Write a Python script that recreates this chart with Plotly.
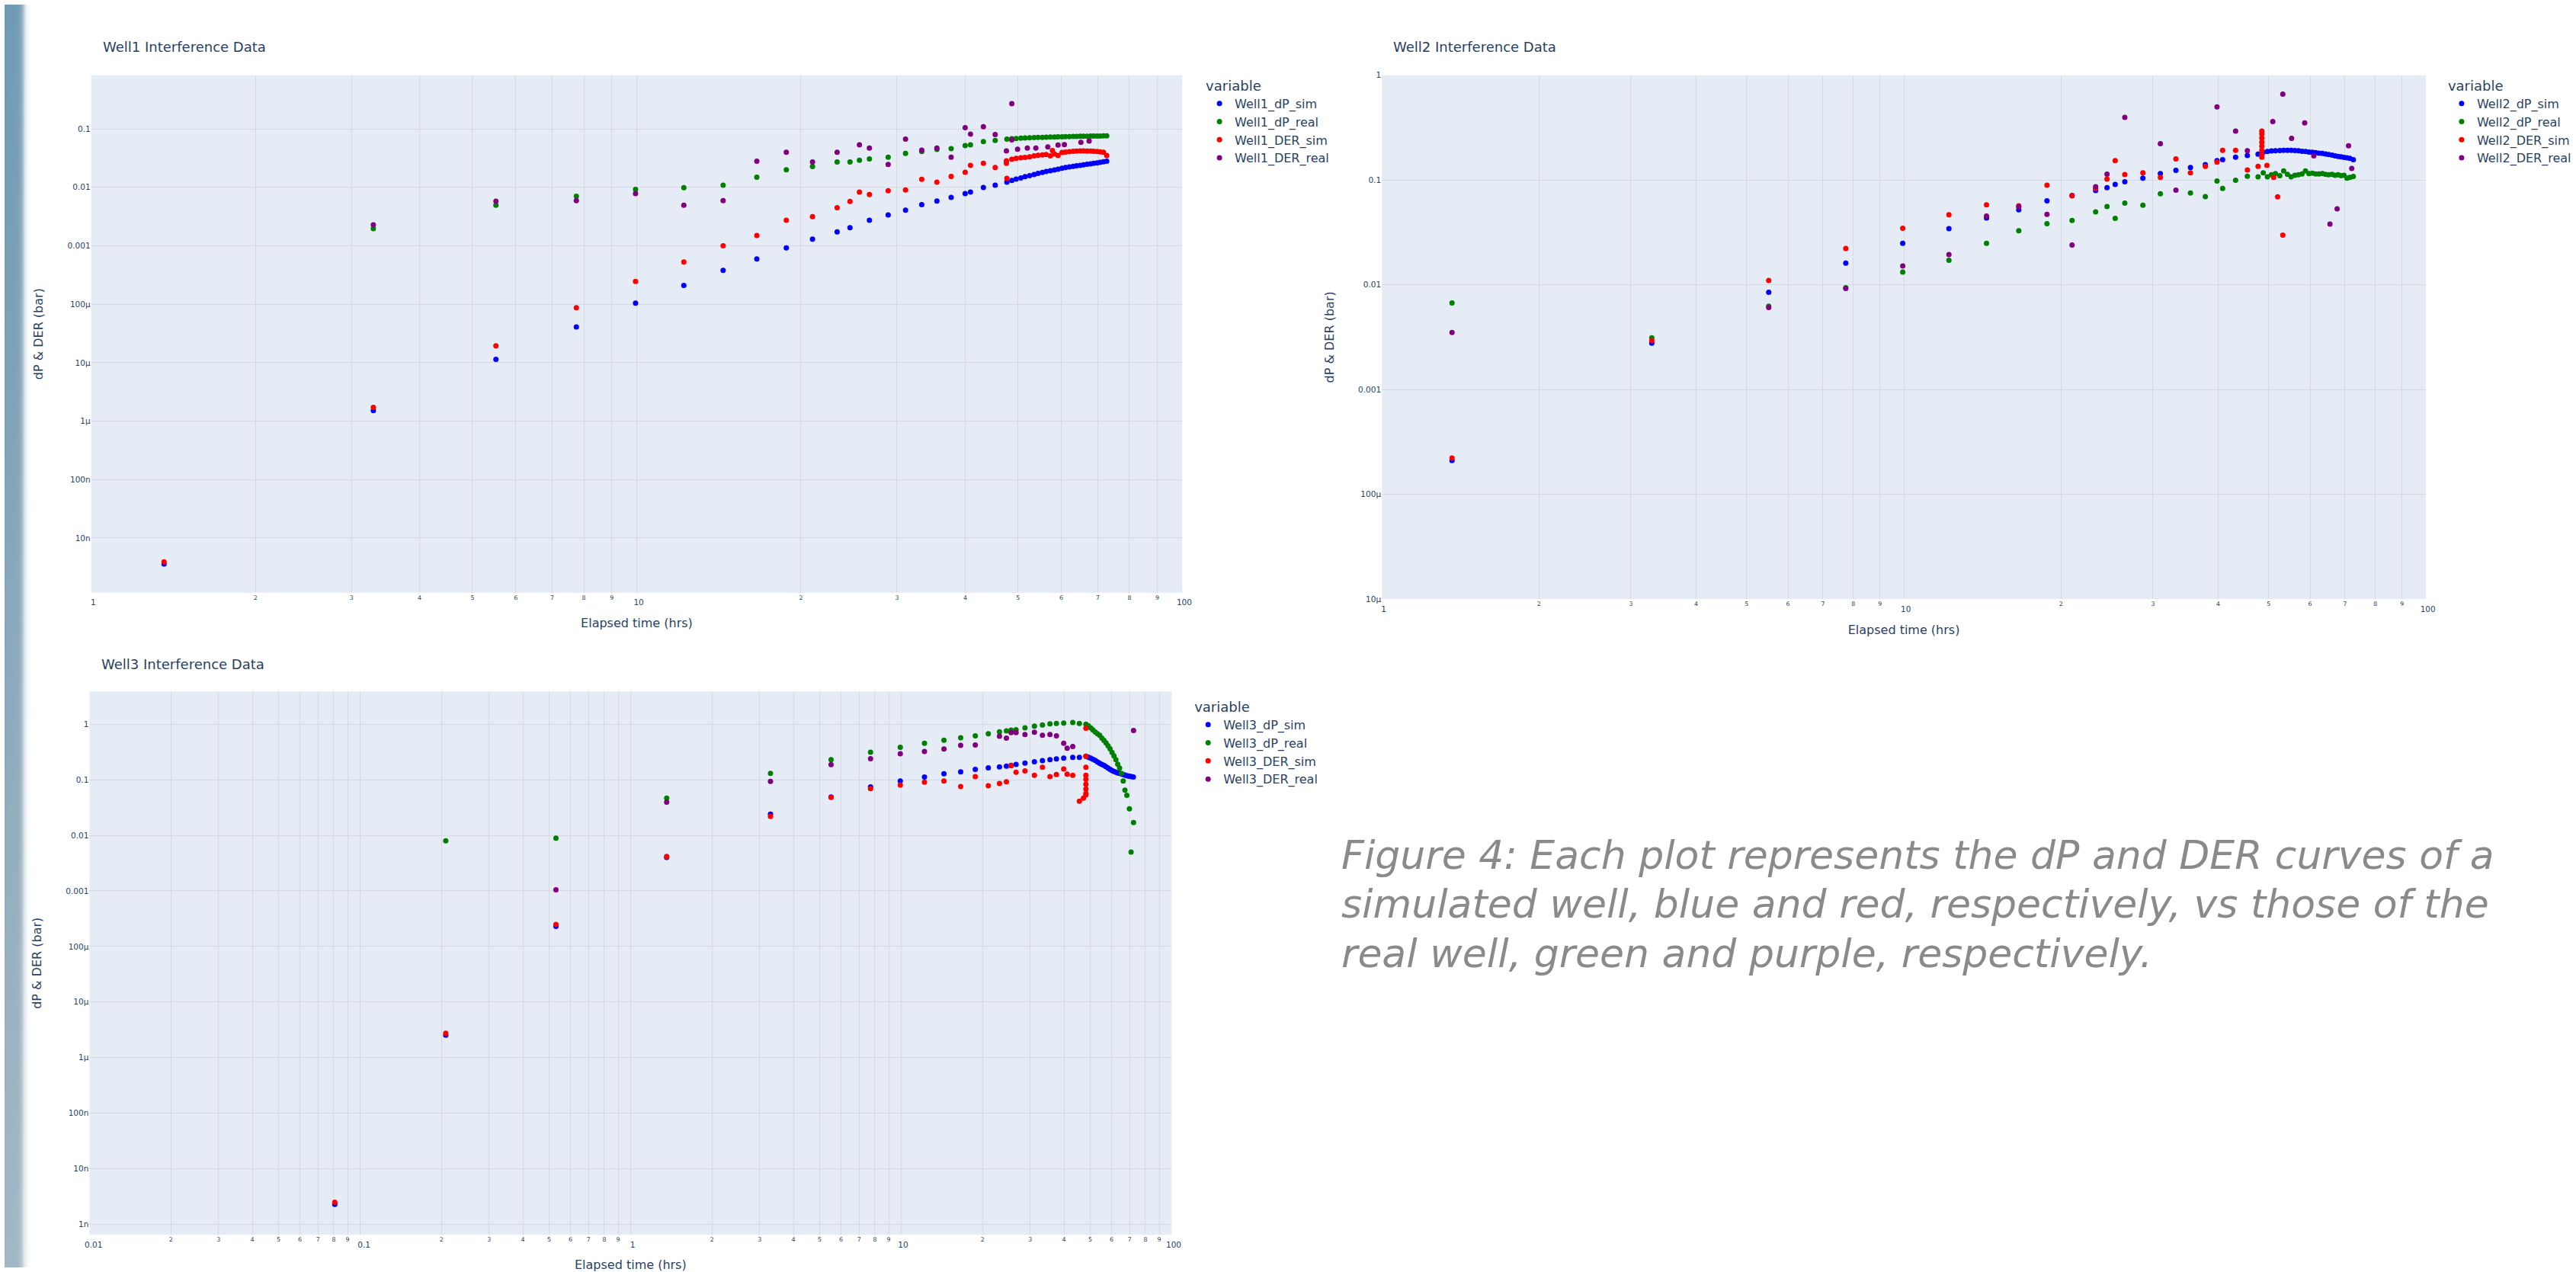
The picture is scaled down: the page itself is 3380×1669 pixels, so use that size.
import plotly.graph_objects as go

W, H = 3380, 1669

# ---------------- Well1 ----------------
w1_late_t = [47.7, 48.7, 49.6, 50.6, 51.5, 52.5, 53.5, 54.4, 55.4, 56.3, 57.3, 58.3, 59.2, 60.2,
             61.1, 62.1, 63.1, 64.0, 65.0, 65.9, 66.9, 67.9, 68.8, 69.8, 70.7, 71.7, 72.7]

w1_dp_sim_t = [1.36, 3.29, 5.52, 7.75, 9.95, 12.2, 14.4, 16.6, 18.8, 21.0, 23.3, 24.6, 26.7, 28.9,
               31.1, 33.3, 35.5, 37.7, 40.0, 40.9, 43.2, 45.4] + w1_late_t
w1_dp_sim = [3.6e-9, 1.51e-6, 1.14e-5, 4.07e-5, 1.04e-4, 2.09e-4, 3.8e-4, 5.97e-4, 9.2e-4, 1.30e-3,
             1.73e-3, 2.04e-3, 2.73e-3, 3.37e-3, 4.08e-3, 5.04e-3, 5.82e-3, 6.74e-3, 7.80e-3,
             8.32e-3, 9.93e-3, 1.09e-2,
             0.0123, 0.0131, 0.0138, 0.0145, 0.0152, 0.0158, 0.0166, 0.0173, 0.0180, 0.0187, 0.0193,
             0.0199, 0.0205, 0.0212, 0.0218, 0.0223, 0.0228, 0.0233, 0.0238, 0.0243, 0.0248, 0.0253,
             0.0257, 0.0262, 0.0267, 0.0273, 0.0279]

w1_dp_real_t = [3.29, 5.52, 7.75, 9.95, 12.2, 14.4, 16.6, 18.8, 21.0, 23.3, 24.6, 25.6, 26.7, 28.9,
                31.1, 33.3, 35.5, 37.7, 40.0, 40.9, 43.2, 45.4] + w1_late_t
w1_dp_real = [1.97e-3, 4.95e-3, 7.06e-3, 9.2e-3, 9.9e-3, 1.09e-2, 1.49e-2, 2.0e-2, 2.27e-2, 2.71e-2,
              2.72e-2, 2.9e-2, 3.07e-2, 3.28e-2, 3.8e-2, 4.12e-2, 4.47e-2, 4.61e-2, 5.17e-2, 5.33e-2,
              6.07e-2, 6.37e-2,
              0.0668, 0.0677, 0.0685, 0.0692, 0.0698, 0.0704, 0.0709, 0.0714, 0.0718, 0.0722, 0.0725,
              0.0728, 0.0731, 0.0734, 0.0737, 0.0739, 0.0741, 0.0744, 0.0746, 0.0748, 0.0750, 0.0752,
              0.0754, 0.0756, 0.0757, 0.0759, 0.0760]

w1_der_sim_t = [1.36, 3.29, 5.52, 7.75, 9.95, 12.2, 14.4, 16.6, 18.8, 21.0, 23.3, 24.6, 25.6, 26.7,
                28.9, 31.1, 33.3, 35.5, 37.7, 40.0, 40.9, 43.2, 45.4, 47.6, 47.6, 47.7,
                48.7, 49.6, 50.6, 51.5, 52.5, 53.5, 54.4, 55.4, 56.3, 57.3, 57.8, 58.3, 59.2, 60.2,
                61.1, 62.1, 63.1, 64.0, 65.0, 65.9, 66.9, 67.9, 68.8, 69.8, 70.7, 71.7, 72.7]
w1_der_sim = [3.9e-9, 1.72e-6, 1.94e-5, 8.7e-5, 2.45e-4, 5.3e-4, 1.0e-3, 1.5e-3, 2.73e-3, 3.16e-3,
              4.5e-3, 5.73e-3, 8.3e-3, 7.55e-3, 8.73e-3, 9.0e-3, 1.374e-2, 1.226e-2, 1.538e-2,
              1.81e-2, 2.38e-2, 2.58e-2, 2.19e-2, 0.0258, 0.0285, 0.0143,
              0.0302, 0.0313, 0.0320, 0.0326, 0.0334, 0.0345, 0.0353, 0.0360, 0.0363, 0.0345, 0.0426,
              0.0372, 0.0352, 0.0395, 0.0400, 0.0407, 0.0413, 0.0417, 0.0419, 0.0419, 0.0418, 0.0416,
              0.0413, 0.0410, 0.0405, 0.0398, 0.0351]

w1_der_real_t = [3.29, 5.52, 7.75, 9.95, 12.2, 14.4, 16.6, 18.8, 21.0, 23.3, 25.6, 26.7, 28.9, 31.1,
                 33.3, 35.5, 37.7, 40.0, 40.9, 43.2, 45.4, 47.6, 48.7, 48.7, 49.9, 52.0, 53.9, 56.7,
                 59.2, 60.8, 65.2, 67.5]
w1_der_real = [2.28e-3, 5.8e-3, 5.9e-3, 7.8e-3, 4.95e-3, 5.9e-3, 2.79e-2, 3.99e-2, 2.71e-2, 3.99e-2,
               5.33e-2, 4.69e-2, 2.46e-2, 6.68e-2, 4.33e-2, 4.69e-2, 3.28e-2, 0.105, 8.13e-2, 0.109,
               8.0e-2, 0.042, 0.065, 0.27, 0.045, 0.047, 0.047, 0.049, 0.053, 0.054, 0.059, 0.062]

# ---------------- Well2 ----------------
w2_late_t = [48.8, 49.7, 50.6, 51.5, 52.5, 53.4, 54.3, 55.2, 56.1, 57.0, 57.9, 58.8, 59.7, 60.6,
             61.5, 62.4, 63.3, 64.2, 65.1, 66.1, 67.0, 67.9, 68.8, 69.7, 70.6, 71.5, 72.6]

w2_dp_sim_t = [1.363, 3.29, 5.51, 7.74, 9.95, 12.2, 14.4, 16.6, 18.8, 21.0, 23.3, 24.5, 25.4, 26.5,
               28.7, 31.0, 33.2, 35.4, 37.8, 39.8, 40.8, 43.2, 45.5, 47.7] + w2_late_t
w2_dp_sim = [2.1e-4, 2.77e-3, 8.47e-3, 0.0161, 0.0248, 0.0343, 0.0434, 0.0519, 0.0633, 0.071, 0.0793,
             0.0845, 0.0908, 0.096, 0.104, 0.1148, 0.1233, 0.1315, 0.140, 0.153, 0.156, 0.165, 0.171,
             0.176,
             0.184, 0.187, 0.189, 0.190, 0.191, 0.192, 0.192, 0.192, 0.191, 0.190, 0.188, 0.187, 0.185,
             0.184, 0.182, 0.180, 0.179, 0.177, 0.175, 0.173, 0.170, 0.168, 0.166, 0.164, 0.163, 0.161,
             0.156]

w2_dp_real_t = [1.363, 3.29, 5.51, 7.74, 9.95, 12.2, 14.4, 16.6, 18.8, 21.0, 23.3, 24.5, 25.4, 26.5,
                28.7, 31.0, 35.4, 37.8, 39.8, 40.8, 43.2, 45.5, 47.7] + w2_late_t
w2_dp_real = [6.7e-3, 3.11e-3, 6.24e-3, 9.35e-3, 0.0132, 0.0171, 0.0248, 0.0328, 0.0382, 0.041,
              0.0496, 0.0558, 0.043, 0.060, 0.0573, 0.0738, 0.0752, 0.0693, 0.0976, 0.083, 0.0994,
              0.1087, 0.107,
              0.117, 0.107, 0.112, 0.115, 0.110, 0.122, 0.113, 0.107, 0.111, 0.112, 0.114, 0.122,
              0.115, 0.116, 0.114, 0.114, 0.115, 0.113, 0.112, 0.113, 0.111, 0.112, 0.110, 0.111,
              0.104, 0.106, 0.108]

w2_der_sim_t = [1.363, 3.29, 5.51, 7.74, 9.95, 12.2, 14.4, 16.6, 18.8, 21.0, 23.3, 24.5, 25.4, 26.5,
                28.7, 31.0, 33.2, 35.4, 37.8, 39.8, 40.8, 43.2, 45.5, 47.7, 48.5, 48.5, 48.5, 48.5,
                48.5, 48.5, 48.5, 48.5, 49.6, 51.1, 52.0, 53.2]
w2_der_sim = [2.22e-4, 2.92e-3, 0.0110, 0.0222, 0.0346, 0.0466, 0.0578, 0.0568, 0.0891, 0.0705, 0.083,
              0.102, 0.153, 0.1127, 0.117, 0.106, 0.1588, 0.117, 0.135, 0.148, 0.192, 0.192, 0.1245,
              0.135, 0.293, 0.275, 0.252, 0.230, 0.210, 0.192, 0.175, 0.165, 0.138, 0.106, 0.069,
              0.0297]

w2_der_real_t = [1.363, 5.51, 7.74, 9.95, 12.2, 14.4, 16.6, 18.8, 21.0, 23.3, 24.5, 26.5, 31.0, 33.2,
                 39.8, 43.2, 45.5, 50.9, 53.2, 55.3, 58.6, 61.0, 65.5, 67.6, 71.1, 72.1]
w2_der_real = [3.5e-3, 6.07e-3, 9.2e-3, 0.0151, 0.0194, 0.0453, 0.0553, 0.047, 0.0239, 0.086, 0.1138,
               0.395, 0.222, 0.080, 0.499, 0.293, 0.190, 0.361, 0.66, 0.25, 0.35, 0.17, 0.038, 0.053,
               0.212, 0.129]

# ---------------- Well3 ----------------
w3_late_t = [48.2, 49.2, 50.2, 51.2, 52.2, 53.2, 54.2, 55.2, 56.2, 57.2, 58.2, 59.2, 60.2, 61.2,
             62.2, 63.2, 64.2, 65.2, 66.2, 67.2, 68.2, 69.2, 70.2, 71.2, 72.2]

w3_dp_sim_t = [0.0807, 0.2075, 0.530, 1.36, 3.29, 5.51, 7.71, 9.93, 12.2, 14.4, 16.6, 18.8, 21.0,
               23.1, 24.5, 25.5, 26.6, 28.7, 31.1, 33.3, 35.5, 37.5, 39.9, 43.1, 45.6] + w3_late_t
w3_dp_sim = [2.29e-9, 2.53e-6, 2.29e-4, 4.0e-3, 0.024, 0.049, 0.0743, 0.095, 0.112, 0.128, 0.139,
             0.154, 0.164, 0.170, 0.176, 0.182, 0.188, 0.200, 0.211, 0.221, 0.229, 0.237, 0.245,
             0.253, 0.253,
             0.265, 0.254, 0.244, 0.234, 0.222, 0.209, 0.198, 0.189, 0.181, 0.171, 0.162, 0.154,
             0.147, 0.141, 0.136, 0.132, 0.130, 0.127, 0.124, 0.121, 0.118, 0.117, 0.115, 0.114,
             0.112]

w3_dp_real_t = [0.2075, 0.530, 1.36, 3.29, 5.51, 7.71, 9.93, 12.2, 14.4, 16.6, 18.8, 21.0, 23.1,
                24.5, 25.5, 26.6, 28.7, 31.1, 33.3, 35.5, 37.5, 39.9, 43.1, 45.6,
                48.2, 49.2, 50.2, 51.2, 52.2, 53.2, 54.2, 55.2, 56.2, 57.2, 58.2, 59.2, 60.2, 61.2,
                62.2, 63.2, 64.2, 65.2, 66.2, 67.2, 68.3, 69.8, 70.8, 72.3]
w3_dp_real = [7.94e-3, 8.9e-3, 0.0467, 0.130, 0.229, 0.313, 0.383, 0.452, 0.515, 0.569, 0.618, 0.672,
              0.729, 0.756, 0.78, 0.793, 0.861, 0.92, 0.967, 1.016, 1.03, 1.05, 1.07, 1.03,
              1.00, 0.94, 0.86, 0.79, 0.72, 0.67, 0.63, 0.56, 0.51, 0.46, 0.41, 0.36, 0.31, 0.27,
              0.23, 0.19, 0.162, 0.13, 0.095, 0.065, 0.0524, 0.0299, 0.00499, 0.017]

w3_der_sim_t = [0.0807, 0.2075, 0.530, 1.36, 3.29, 5.51, 7.71, 9.93, 12.2, 14.4, 16.6, 18.8, 21.0,
                23.1, 24.5, 25.5, 26.6, 28.7, 31.1, 33.3, 35.5, 37.5, 39.9, 41.1, 43.1, 45.6, 47.2,
                48.2, 48.2, 48.2, 48.2, 48.2, 48.2, 48.2, 48.2, 48.2]
w3_der_sim = [2.49e-9, 2.75e-6, 2.49e-4, 4.16e-3, 0.0218, 0.0482, 0.0695, 0.0805, 0.0906, 0.095,
              0.0755, 0.114, 0.078, 0.086, 0.092, 0.179, 0.137, 0.144, 0.12, 0.167, 0.114, 0.124,
              0.156, 0.126, 0.12, 0.041, 0.0467,
              0.847, 0.266, 0.167, 0.12, 0.102, 0.0833, 0.0684, 0.0569, 0.0533]

w3_der_real_t = [0.530, 1.36, 3.29, 5.51, 7.71, 9.93, 12.2, 14.4, 16.6, 18.8, 23.1, 24.5, 25.5, 26.6,
                 28.7, 31.1, 33.3, 35.5, 37.5, 39.9, 41.1, 43.1, 72.3]
w3_der_real = [1.05e-3, 0.0395, 0.0936, 0.1876, 0.240, 0.294, 0.324, 0.358, 0.416, 0.423, 0.608, 0.56,
               0.706, 0.706, 0.65, 0.718, 0.629, 0.65, 0.618, 0.452, 0.37, 0.396, 0.767]

# ---------------- text ----------------
titles = ["Well1 Interference Data", "Well2 Interference Data", "Well3 Interference Data"]
x_title = "Elapsed time (hrs)"
y_title = "dP & DER (bar)"
legend_title = "variable"
caption_lines = ["Figure 4: Each plot represents the dP and DER curves of a",
                 "simulated well, blue and red, respectively, vs those of the",
                 "real well, green and purple, respectively."]

colors = {"dP_sim": "blue", "dP_real": "green", "DER_sim": "red", "DER_real": "purple"}

wells = [
    ("Well1", [(w1_dp_sim_t, w1_dp_sim), (w1_dp_real_t, w1_dp_real),
               (w1_der_sim_t, w1_der_sim), (w1_der_real_t, w1_der_real)]),
    ("Well2", [(w2_dp_sim_t, w2_dp_sim), (w2_dp_real_t, w2_dp_real),
               (w2_der_sim_t, w2_der_sim), (w2_der_real_t, w2_der_real)]),
    ("Well3", [(w3_dp_sim_t, w3_dp_sim), (w3_dp_real_t, w3_dp_real),
               (w3_der_sim_t, w3_der_sim), (w3_der_real_t, w3_der_real)]),
]

FONT = "DejaVu Sans, Verdana, sans-serif"
INK = "#2a3f5f"

fig = go.Figure()

# decorative page-edge gradient on the far left
edge_x = [0, 4, 8, 12, 16, 19, 22, 25, 28, 31, 34]
edge_fade = [1.0, 0.97, 0.97, 0.97, 0.96, 0.92, 0.8, 0.55, 0.25, 0.06, 0.0]
edge_y = [0, 400, 800, 1200, 1669]
edge_shade = [0.72, 0.78, 0.85, 0.93, 1.0]
edge_z = [[s * f for f in edge_fade] for s in edge_shade]
fig.add_trace(go.Heatmap(x=edge_x, y=edge_y, z=edge_z, xaxis="x4", yaxis="y4", zsmooth="best",
                         showscale=False, hoverinfo="skip", zmin=0, zmax=1, showlegend=False,
                         colorscale=[[0, "#ffffff"], [0.4, "#dce5eb"], [0.72, "#9fb5c3"],
                                     [1, "#6b98b3"]]))

names = ["dP_sim", "dP_real", "DER_sim", "DER_real"]
for i, (well, series) in enumerate(wells):
    ax = "" if i == 0 else str(i + 1)
    for name, (t, v) in zip(names, series):
        fig.add_trace(go.Scatter(
            x=t, y=v, mode="markers", name=f"{well}_{name}",
            marker=dict(color=colors[name], size=7),
            xaxis="x" + ax, yaxis="y" + ax,
            legend="legend" if i == 0 else f"legend{i + 1}",
        ))

px2x = lambda p: p / W
px2y = lambda p: 1 - p / H

grid = "#d6dae2"
tickfont = dict(family=FONT, size=10.5, color=INK)
titlefont = dict(family=FONT, size=16, color=INK)

def xa(dom, rng, anchor):
    return dict(type="log", domain=dom, range=rng, anchor=anchor, dtick="D1", gridcolor=grid,
                tickfont=tickfont, title=dict(text=x_title, font=titlefont, standoff=16),
                showline=False, zeroline=False, ticks="")

def ya(dom, rng, anchor):
    return dict(type="log", domain=dom, range=rng, anchor=anchor, dtick=1, gridcolor=grid,
                tickfont=tickfont, title=dict(text=y_title, font=titlefont, standoff=27),
                showline=False, zeroline=False, ticks="")

def leg(x, y):
    return dict(x=x, y=y, xanchor="left", yanchor="top",
                font=dict(family=FONT, size=16, color=INK),
                title=dict(text=legend_title, font=dict(family=FONT, size=18, color=INK)),
                bgcolor="rgba(0,0,0,0)")

fig.update_layout(
    width=W, height=H, margin=dict(l=0, r=0, t=0, b=0),
    paper_bgcolor="white", plot_bgcolor="#E5ECF6",
    font=dict(family=FONT, color=INK),
    xaxis=xa([px2x(114.3), px2x(1554)], [0, 2], "y"),
    yaxis=ya([px2y(777.3), px2y(93.3)], [-8.936, -0.081], "x"),
    xaxis2=xa([px2x(1817.3), px2x(3195)], [0, 2], "y2"),
    yaxis2=ya([px2y(785.7), px2y(93.3)], [-5, 0], "x2"),
    xaxis3=xa([px2x(112), px2x(1540)], [-2, 2], "y3"),
    yaxis3=ya([px2y(1626), px2y(907.7)], [-9.19, 0.59], "x3"),
    xaxis4=dict(domain=[0, px2x(34)], range=[0, 34], visible=False, anchor="y4", fixedrange=True),
    yaxis4=dict(domain=[0, 1], range=[0, 1669], visible=False, anchor="x4", fixedrange=True),
    legend=leg(px2x(1583), px2y(90)),
    legend2=leg(px2x(3222), px2y(90)),
    legend3=leg(px2x(1568), px2y(911)),
    showlegend=True,
)

title_pos = [(128, 56), (1830, 56), (126, 872)]
for txt, (x, y) in zip(titles, title_pos):
    fig.add_annotation(text=txt, x=px2x(x), y=px2y(y), xref="paper", yref="paper",
                       xanchor="left", yanchor="middle", showarrow=False,
                       font=dict(family=FONT, size=18, color=INK))

for line, y in zip(caption_lines, [1124, 1189, 1254]):
    fig.add_annotation(text=line, x=px2x(1762), y=px2y(y), xref="paper", yref="paper",
                       xanchor="left", yanchor="middle", align="left", showarrow=False,
                       font=dict(family="DejaVu Sans", size=52, color="#8a8a8a", style="italic",
                                 weight=300))

fig.write_html("out.html", config={"displayModeBar": False},
               post_script="document.body.style.margin='0';document.body.style.overflow='hidden';")
